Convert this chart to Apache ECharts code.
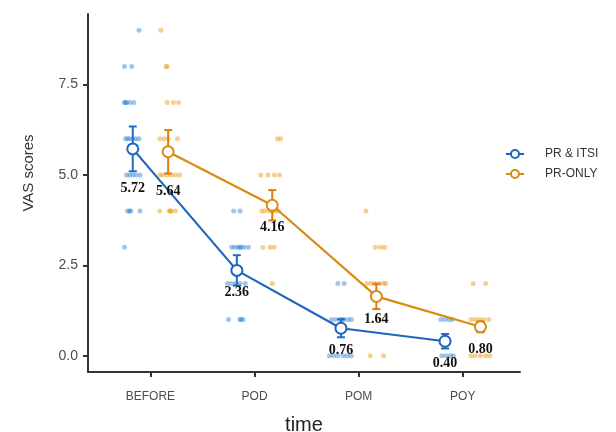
<!DOCTYPE html>
<html><head><meta charset="utf-8">
<script src="https://cdn.jsdelivr.net/npm/echarts@6/dist/echarts.min.js"></script>
<style>html,body{margin:0;padding:0;background:#fff}#c{width:616px;height:432px}</style>
</head><body><div id="c"></div>
<script>
const categories = ['BEFORE', 'POD', 'POM', 'POY'];
const groupNames = ['PR & ITSI', 'PR-ONLY'];
const meanITSI = [5.72, 2.36, 0.76, 0.40];
const meanOnly = [5.64, 4.16, 1.64, 0.80];
const seITSI = [0.62, 0.42, 0.25, 0.20];
const seOnly = [0.60, 0.42, 0.35, 0.15];
const yTicks = [0, 2.5, 5, 7.5];
// individual jittered observations [x, score]
const pointsITSI = [
  [0.89,9],[0.75,8],[0.82,8],
  [0.75,7],[0.76,7],[0.77,7],[0.80,7],[0.84,7],
  [0.76,6],[0.78,6],[0.80,6],[0.83,6],[0.86,6],[0.89,6],
  [0.77,5],[0.80,5],[0.83,5],[0.86,5],[0.90,5],
  [0.78,4],[0.80,4],[0.81,4],[0.90,4],[0.75,3],
  [1.80,4],[1.86,4],
  [1.78,3],[1.81,3],[1.84,3],[1.86,3],[1.87,3],[1.90,3],[1.94,3],
  [1.74,2],[1.78,2],[1.82,2],[1.86,2],[1.91,2],
  [1.75,1],[1.86,1],[1.87,1],[1.89,1],
  [2.80,2],[2.86,2],
  [2.74,1],[2.78,1],[2.82,1],[2.84,1],[2.86,1],[2.90,1],[2.93,1],
  [2.72,0],[2.76,0],[2.80,0],[2.85,0],[2.89,0],[2.93,0],
  [3.79,1],[3.83,1],[3.87,1],[3.90,1],
  [3.80,0],[3.84,0],[3.88,0],[3.91,0]
];
const pointsOnly = [
  [1.10,9],[1.15,8],[1.16,8],
  [1.16,7],[1.22,7],[1.27,7],
  [1.09,6],[1.13,6],[1.17,6],[1.26,6],
  [1.09,5],[1.12,5],[1.16,5],[1.20,5],[1.24,5],[1.28,5],
  [1.09,4],[1.18,4],[1.19,4],[1.20,4],[1.24,4],
  [2.22,6],[2.25,6],
  [2.06,5],[2.13,5],[2.19,5],[2.24,5],
  [2.07,4],[2.10,4],[2.14,4],[2.17,4],[2.20,4],[2.23,4],
  [2.08,3],[2.15,3],[2.19,3],[2.17,2],
  [3.07,4],[3.16,3],[3.21,3],[3.25,3],
  [3.08,2],[3.12,2],[3.16,2],[3.20,2],[3.24,2],[3.26,2],
  [3.20,1],[3.11,0],[3.24,0],
  [4.10,2],[4.22,2],
  [4.08,1],[4.12,1],[4.16,1],[4.20,1],[4.25,1],
  [4.08,0],[4.12,0],[4.17,0],[4.22,0],[4.26,0]
];

const blue = '#1f65bd', orange = '#d98a12';
const blueErr = '#1f6cc4', orangeErr = '#e27a10';
const dodge = 0.17;

function meanData(means, off) {
  return means.map((m, i) => ({
    value: [i + 1 + off, m],
    label: { distance: i === 0 ? 26 : 9 }
  }));
}
function errData(means, se, off) {
  return means.map((m, i) => [i + 1 + off, m - se[i], m + se[i]]);
}
function errSeries(data, color) {
  return {
    type: 'custom', z: 3, silent: true,
    data: data,
    renderItem: function (params, api) {
      const x = api.value(0);
      const lo = api.coord([x, api.value(1)]);
      const hi = api.coord([x, api.value(2)]);
      const w = 4;
      const st = { stroke: color, lineWidth: 2 };
      return { type: 'group', children: [
        { type: 'line', shape: { x1: lo[0], y1: lo[1], x2: hi[0], y2: hi[1] }, style: st },
        { type: 'line', shape: { x1: lo[0] - w, y1: lo[1], x2: lo[0] + w, y2: lo[1] }, style: st },
        { type: 'line', shape: { x1: hi[0] - w, y1: hi[1], x2: hi[0] + w, y2: hi[1] }, style: st }
      ]};
    }
  };
}
const labelStyle = {
  show: true, position: 'bottom', color: '#111',
  fontFamily: 'Liberation Serif', fontWeight: 'bold', fontSize: 14,
  formatter: p => p.value[1].toFixed(2)
};
function meanSeries(name, data, color) {
  return {
    name: name, type: 'line', z: 5, data: data,
    symbol: 'circle', symbolSize: 11,
    itemStyle: { color: '#fff', borderColor: color, borderWidth: 2 },
    lineStyle: { color: color, width: 2.2 },
    label: labelStyle
  };
}

const chart = echarts.init(document.getElementById('c'), null, { renderer: 'canvas' });
chart.setOption({
  animation: false,
  grid: { left: 88, right: 96, top: 14, bottom: 60, containLabel: false, outerBoundsMode: 'none' },
  legend: {
    data: groupNames, orient: 'vertical', left: 500, top: 143,
    itemWidth: 18, itemHeight: 10, itemGap: 8,
    textStyle: { fontFamily: 'Liberation Sans', fontSize: 12, color: '#333', padding: [0, 0, 0, 16] }
  },
  xAxis: {
    type: 'value', min: 0.4, max: 4.55,
    name: 'time', nameLocation: 'middle', nameGap: 43,
    nameTextStyle: { fontFamily: 'Liberation Sans', fontSize: 20, color: '#222' },
    axisLine: { onZero: false, lineStyle: { color: '#333', width: 2 } },
    axisTick: { customValues: [1, 2, 3, 4], length: 5, lineStyle: { color: '#333', width: 2 } },
    axisLabel: { customValues: [1, 2, 3, 4], formatter: v => categories[Math.round(v) - 1],
      fontFamily: 'Liberation Sans', fontSize: 12, color: '#4d4d4d', margin: 19 },
    splitLine: { show: false }
  },
  yAxis: {
    type: 'value', min: -0.45, max: 9.45,
    name: 'VAS scores', nameLocation: 'middle', nameGap: 52,
    nameTextStyle: { fontFamily: 'Liberation Sans', fontSize: 15, color: '#333', padding: [0, 0, 0, 40] },
    axisLine: { show: true, onZero: false, lineStyle: { color: '#333', width: 2 } },
    axisTick: { show: true, customValues: yTicks, length: 5, lineStyle: { color: '#333', width: 2 } },
    axisLabel: { customValues: yTicks, formatter: v => v.toFixed(1),
      fontFamily: 'Liberation Sans', fontSize: 14, color: '#4d4d4d', margin: 10 },
    splitLine: { show: false }
  },
  series: [
    { type: 'scatter', z: 1, symbolSize: 5, data: pointsITSI, silent: true,
      itemStyle: { color: '#2a80d6', opacity: 0.45 } },
    { type: 'scatter', z: 1, symbolSize: 5, data: pointsOnly, silent: true,
      itemStyle: { color: '#f0a020', opacity: 0.5 } },
    errSeries(errData(meanITSI, seITSI, -dodge), blueErr),
    errSeries(errData(meanOnly, seOnly, dodge), orangeErr),
    meanSeries(groupNames[0], meanData(meanITSI, -dodge), blue),
    meanSeries(groupNames[1], meanData(meanOnly, dodge), orange)
  ]
});
</script></body></html>
